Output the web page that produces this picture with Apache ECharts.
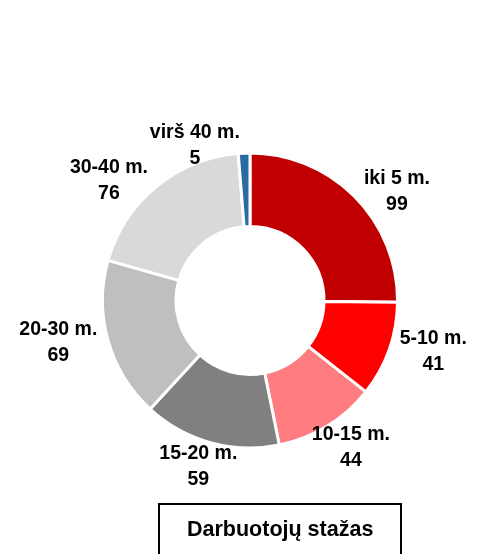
<!DOCTYPE html>
<html>
<head>
<meta charset="utf-8">
<script src="https://cdn.jsdelivr.net/npm/echarts@6/dist/echarts.min.js"></script>
<style>
  html, body { margin: 0; padding: 0; background: #fff; }
  #chart { width: 477px; height: 554px; }
</style>
</head>
<body>
<div id="chart"></div>
<script>
var categories = ['iki 5 m.', '5-10 m.', '10-15 m.', '15-20 m.', '20-30 m.', '30-40 m.', 'virš 40 m.'];
var values = [99, 41, 44, 59, 69, 76, 5];
var colors = ['#C00000', '#FF0000', '#FF7C80', '#808080', '#BFBFBF', '#D9D9D9', '#2B6BA3'];
var titleText = 'Darbuotojų stažas';

var font = "'Liberation Sans', Arial, sans-serif";
var pieCenter = [250, 300.5];
var outerR = 147.5;

var myChart = echarts.init(document.getElementById('chart'));

var pieData = categories.map(function (name, i) {
    return { name: name, value: values[i], itemStyle: { color: colors[i] } };
});

// mid angle of each slice (clockwise from 12 o'clock), from the data
var total = values.reduce(function (a, b) { return a + b; }, 0);
var midAngles = [];
var acc = 0;
values.forEach(function (v) {
    midAngles.push((acc + v / 2) / total * Math.PI * 2);
    acc += v;
});

// labels beside the ring, the lowest ones set below it
function placeLabel(params) {
    var a = midAngles[params.dataIndex];
    var ux = Math.sin(a), uy = -Math.cos(a);
    var w = params.labelRect.width, h = params.labelRect.height;
    var x, y;
    if (uy > 0.8) {
        x = pieCenter[0] + ux * (outerR + 2) + ux * (w / 2 + 4);
        y = pieCenter[1] + uy * (outerR + 2) + uy * (h / 2);
    } else {
        var px = pieCenter[0] + ux * (outerR + 7);
        var py = pieCenter[1] + uy * (outerR + 7);
        x = px + (ux < 0 ? -1 : 1) * (4 + w / 2);
        y = py;
    }
    return { x: x, y: y, align: 'center', verticalAlign: 'middle', hideOverlap: false };
}

var option = {
    backgroundColor: '#fff',
    animation: false,
    title: {
        text: titleText,
        left: 159,
        top: 504,
        padding: [13, 28, 30, 28],
        borderColor: '#000',
        borderWidth: 2,
        textStyle: {
            fontFamily: font,
            fontSize: 21.5,
            fontWeight: 'bold',
            lineHeight: 26,
            color: '#000'
        }
    },
    series: [{
        type: 'pie',
        center: pieCenter,
        radius: [74, outerR],
        startAngle: 90,
        clockwise: true,
        avoidLabelOverlap: false,
        itemStyle: {
            borderColor: '#fff',
            borderWidth: 3
        },
        label: {
            show: true,
            position: 'outside',
            formatter: '{t|{b}}\n{t|{c}}',
            rich: {
                t: {
                    fontFamily: font,
                    fontSize: 19.5,
                    fontWeight: 'bold',
                    lineHeight: 26,
                    color: '#000',
                    align: 'center'
                }
            }
        },
        labelLine: { show: false },
        labelLayout: placeLabel,
        emphasis: { disabled: true },
        data: pieData
    }]
};

myChart.setOption(option);
</script>
</body>
</html>
